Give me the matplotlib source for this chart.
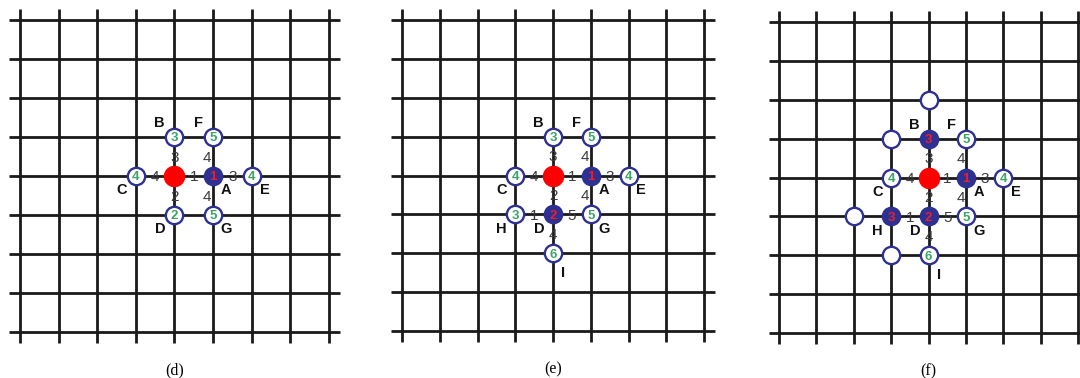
import numpy as np
import matplotlib.pyplot as plt

# grille 9 x 9, noeud de départ en (4, 4) ; les lignes (row) descendent
n_lines = 9
start = (4, 4)

# ---------------- panneau (d) ----------------
d_names = ['A', 'B', 'C', 'D', 'E', 'F', 'G']
d_col = [5, 4, 3, 4, 6, 5, 5]
d_row = [4, 3, 4, 5, 4, 3, 5]
d_closed = [True, False, False, False, False, False, False]
d_value = ['1', '3', '4', '2', '4', '5', '5']
d_edges = [('S', 'A', '1'), ('S', 'B', '3'), ('S', 'C', '4'), ('S', 'D', '2'),
           ('A', 'E', '3'), ('A', 'F', '4'), ('A', 'G', '4')]
d_empty_col = []
d_empty_row = []

# ---------------- panneau (e) ----------------
e_names = ['A', 'B', 'C', 'D', 'E', 'F', 'G', 'H', 'I']
e_col = [5, 4, 3, 4, 6, 5, 5, 3, 4]
e_row = [4, 3, 4, 5, 4, 3, 5, 5, 6]
e_closed = [True, False, False, True, False, False, False, False, False]
e_value = ['1', '3', '4', '2', '4', '5', '5', '3', '6']
e_edges = d_edges + [('D', 'H', '1'), ('D', 'G', '5'), ('D', 'I', '4')]
e_empty_col = []
e_empty_row = []

# ---------------- panneau (f) ----------------
f_names = e_names
f_col = e_col
f_row = e_row
f_closed = [True, True, False, True, False, False, False, True, False]
f_value = e_value
f_edges = e_edges
f_empty_col = [4, 3, 2, 3]
f_empty_row = [2, 3, 5, 6]

# coin de l'étiquette de chaque noeud
corner = {'A': 'lr', 'B': 'ul', 'C': 'll', 'D': 'll', 'E': 'lr',
          'F': 'ul', 'G': 'lr', 'H': 'll', 'I': 'low'}
corner_off = {'ul': (-0.38, -0.36), 'll': (-0.36, 0.36), 'lr': (0.34, 0.36),
              'low': (0.27, 0.5)}

navy = '#2e3192'
green = '#3aa565'
line_c = '#1a1a1a'

W, H = 1080, 378
fig = plt.figure(figsize=(10.8, 3.78), dpi=100)

# (x0, pas x, y0, pas y) en pixels pour chaque panneau
layout = [(20, 38.6, 20, 39.0), (402, 37.75, 20, 38.9), (779, 37.4, 22, 38.9)]
panels = [
    (d_names, d_col, d_row, d_closed, d_value, d_edges, d_empty_col, d_empty_row, '(d)'),
    (e_names, e_col, e_row, e_closed, e_value, e_edges, e_empty_col, e_empty_row, '(e)'),
    (f_names, f_col, f_row, f_closed, f_value, f_edges, f_empty_col, f_empty_row, '(f)'),
]

for (x0, sx, y0, sy), p in zip(layout, panels):
    names, cols, rows, closed, values, edges, ecol, erow, caption = p
    left = (x0 - 0.5 * sx) / W
    width = 9 * sx / W
    top = (y0 - 0.5 * sy) / H
    height = 9 * sy / H
    ax = fig.add_axes([left, 1 - top - height, width, height])
    ax.set_xlim(-0.5, 8.5)
    ax.set_ylim(8.5, -0.5)
    ax.axis('off')

    idx = np.arange(n_lines)
    ax.hlines(idx, -0.28, 8.28, color=line_c, lw=2.0, zorder=1)
    ax.vlines(idx, -0.28, 8.28, color=line_c, lw=2.0, zorder=1)

    pos = {'S': start}
    for n, c, r in zip(names, cols, rows):
        pos[n] = (c, r)

    # poids des arêtes
    for a, b, w in edges:
        (xa, ya), (xb, yb) = pos[a], pos[b]
        xm, ym = (xa + xb) / 2, (ya + yb) / 2
        if xa == xb and xa != start[0]:
            xm -= 0.15
        ax.text(xm, ym + 0.03, w, ha='center', va='center', fontsize=11,
                color='#3a3a3a', family='Liberation Sans', zorder=4)

    # noeuds vides
    ax.plot(ecol, erow, 'o', ms=12.5, mfc='white', mec=navy, mew=1.7, zorder=3)

    # noeud de départ
    ax.plot(start[0], start[1], 'o', ms=14.5, mfc='#ff0000', mec='#ff0000', zorder=3)

    for n, c, r, cl, v in zip(names, cols, rows, closed, values):
        if cl:
            ax.plot(c, r, 'o', ms=12.5, mfc=navy, mec=navy, mew=1.7, zorder=3)
            tc = '#e8202a'
        else:
            ax.plot(c, r, 'o', ms=12.5, mfc='white', mec=navy, mew=1.7, zorder=3)
            tc = green
        ax.text(c, r + 0.03, v, ha='center', va='center', fontsize=9.5,
                fontweight='bold', color=tc, family='Liberation Sans', zorder=5)
        dx, dy = corner_off[corner[n]]
        ax.text(c + dx, r + dy, n, ha='center', va='center', fontsize=10.5,
                fontweight='bold', color='#111111', family='Liberation Sans', zorder=5)

    ax.text(4, 8.98, caption, ha='center', va='center', fontsize=11.5,
            family='Liberation Serif', clip_on=False)

fig.savefig('out.png', dpi=100)
